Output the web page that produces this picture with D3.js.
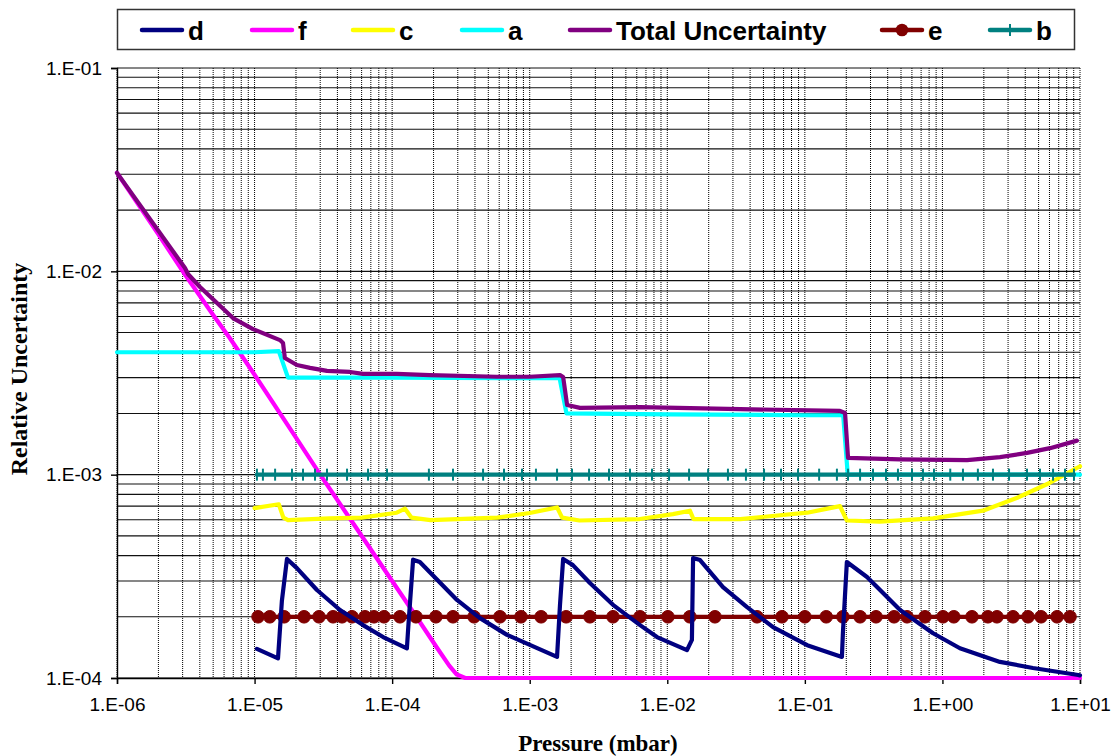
<!DOCTYPE html>
<html>
<head>
<meta charset="utf-8">
<script src="https://cdn.jsdelivr.net/npm/d3@7"></script>
<style>
html,body{margin:0;padding:0;background:#fff;}
svg{display:block;}
</style>
</head>
<body>
<svg id="chart" width="1116" height="756"></svg>
<script>
// ---------- DATA ----------
const xTickValues = [1e-6, 1e-5, 1e-4, 1e-3, 1e-2, 1e-1, 1e0, 1e1];
const xTickLabels = ["1.E-06", "1.E-05", "1.E-04", "1.E-03", "1.E-02", "1.E-01", "1.E+00", "1.E+01"];
const yTickValues = [1e-4, 1e-3, 1e-2, 1e-1];
const yTickLabels = ["1.E-04", "1.E-03", "1.E-02", "1.E-01"];

const seriesNames = ["d", "f", "c", "a", "Total Uncertainty", "e", "b"];

// [pressure (mbar), relative uncertainty]
const dData = [
  [1.04e-5, 1.39e-4], [1.48e-5, 1.25e-4], [1.58e-5, 2.4e-4], [1.72e-5, 3.85e-4], [2.03e-5, 3.47e-4],
  [2.84e-5, 2.71e-4], [4.18e-5, 2.16e-4], [6.14e-5, 1.82e-4], [8.6e-5, 1.59e-4], [1.28e-4, 1.40e-4],
  [1.31e-4, 1.78e-4], [1.42e-4, 3.82e-4], [1.59e-4, 3.72e-4], [2.96e-4, 2.42e-4], [4.35e-4, 1.97e-4],
  [6.84e-4, 1.63e-4], [1.58e-3, 1.27e-4], [1.66e-3, 2.29e-4], [1.75e-3, 3.85e-4], [2.06e-3, 3.59e-4],
  [2.74e-3, 2.93e-4], [4.03e-3, 2.29e-4], [6.34e-3, 1.82e-4], [8.42e-3, 1.59e-4], [1.39e-2, 1.37e-4],
  [1.51e-2, 1.54e-4], [1.54e-2, 3.89e-4], [1.73e-2, 3.80e-4], [2.54e-2, 2.80e-4], [3.80e-2, 2.23e-4],
  [5.87e-2, 1.78e-4], [0.104, 1.45e-4], [0.186, 1.27e-4], [0.189, 1.66e-4], [0.202, 3.72e-4],
  [0.283, 3.14e-4], [0.492, 2.16e-4], [0.855, 1.66e-4], [1.34, 1.40e-4], [2.62, 1.20e-4],
  [4.55, 1.12e-4], [9.7, 1.035e-4], [10, 1.03e-4]
];
const fData = [
  [1e-6, 0.0305], [2e-6, 0.0152], [3.1e-6, 0.0097], [5e-6, 0.0061], [6.6e-6, 0.0047],
  [1e-5, 0.0031], [2e-5, 0.00152], [3e-5, 0.00100], [5e-5, 0.00060], [1e-4, 0.00030],
  [1.5e-4, 0.000200], [2.1e-4, 0.000142], [2.6e-4, 0.000115], [2.95e-4, 0.000104], [3.4e-4, 0.000100],
  [1e-3, 0.000100], [1e-2, 0.000100], [1e-1, 0.000100], [1, 0.000100], [10, 0.000100]
];
const cData = [
  [1e-5, 6.85e-4], [1.5e-5, 7.15e-4], [1.62e-5, 6.15e-4], [1.75e-5, 5.98e-4], [3.5e-5, 6.1e-4],
  [6e-5, 6.15e-4], [1.08e-4, 6.5e-4], [1.24e-4, 6.8e-4], [1.38e-4, 6.15e-4], [1.9e-4, 5.98e-4],
  [5.8e-4, 6.15e-4], [1e-3, 6.48e-4], [1.58e-3, 6.9e-4], [1.72e-3, 6.15e-4], [2.3e-3, 5.95e-4],
  [6.3e-3, 6.05e-4], [1.1e-2, 6.4e-4], [1.46e-2, 6.65e-4], [1.55e-2, 6.05e-4], [3.4e-2, 6.05e-4],
  [0.104, 6.5e-4], [0.18, 7.0e-4], [0.202, 5.95e-4], [0.35, 5.88e-4], [0.855, 6.1e-4],
  [1.97, 6.65e-4], [3.5, 7.7e-4], [6.0, 9.1e-4], [10, 1.1e-3]
];
const aData = [
  [1e-6, 4.0e-3], [1e-5, 4.0e-3], [1.5e-5, 4.05e-3], [1.75e-5, 3.0e-3], [1e-4, 3.0e-3],
  [1e-3, 2.98e-3], [1.65e-3, 2.98e-3], [1.85e-3, 2.0e-3], [1e-2, 1.98e-3], [1e-1, 1.96e-3],
  [0.19, 1.96e-3], [0.205, 1.0e-3], [1, 1.0e-3], [10, 1.0e-3]
];
const totalData = [
  [1e-6, 0.0305], [3.12e-6, 0.01038], [3.28e-6, 0.0097], [4.01e-6, 0.00837], [6.97e-6, 0.00589],
  [9.74e-6, 0.00520], [1.53e-5, 0.00459], [1.61e-5, 0.00444], [1.66e-5, 0.00375], [2.03e-5, 0.00346],
  [2.53e-5, 0.00335], [3.36e-5, 0.00324], [4.94e-5, 0.00320], [6.14e-5, 0.00313], [1.08e-4, 0.00313],
  [1.88e-4, 0.00309], [5.78e-4, 0.00303], [1.0e-3, 0.00303], [1.66e-3, 0.00309], [1.75e-3, 0.00302],
  [1.87e-3, 0.00220], [2.32e-3, 0.00213], [6.34e-3, 0.00215], [3.38e-2, 0.00210], [0.180, 0.00206],
  [0.196, 0.00201], [0.206, 0.00121], [0.492, 0.00119], [1.51, 0.00118], [2.62, 0.00122],
  [4.12, 0.00128], [6.05, 0.00135], [9.5, 0.00147]
];
const ePressures = [
  1.06e-5, 1.29e-5, 1.64e-5, 2.29e-5, 2.94e-5, 3.72e-5, 4.32e-5, 5.11e-5, 6.35e-5, 7.38e-5,
  8.73e-5, 1.14e-4, 1.49e-4, 2.08e-4, 2.77e-4, 3.94e-4, 6.08e-4, 8.64e-4, 1.21e-3, 1.84e-3,
  2.74e-3, 4.03e-3, 6.34e-3, 1.01e-2, 1.46e-2, 2.22e-2, 4.49e-2, 6.82e-2, 0.100, 0.143,
  0.189, 0.252, 0.329, 0.445, 0.553, 0.747, 1.01, 1.21, 1.64, 2.14,
  2.49, 3.26, 4.19, 5.21, 6.81, 8.46
];
const eValue = 2.0e-4;
const bPressures = [
  1.04e-5, 1.15e-5, 1.41e-5, 1.87e-5, 2.25e-5, 2.75e-5, 3.36e-5, 4.70e-5, 6.68e-5, 9.18e-5,
  1.85e-4, 2.77e-4, 4.58e-4, 6.50e-4, 8.79e-4, 1.11e-3, 1.58e-3, 2.03e-3, 2.70e-3, 3.77e-3,
  5.36e-3, 7.74e-3, 1.03e-2, 1.44e-2, 1.98e-2, 2.76e-2, 3.73e-2, 5.05e-2, 6.71e-2, 8.92e-2,
  0.127, 0.171, 0.206, 0.252, 0.313, 0.389, 0.475, 0.601, 0.722, 0.868,
  1.14, 1.41, 1.81, 2.33, 3.05, 4.12, 5.12, 6.37, 7.78, 9.04
];
const bValue = 1.0e-3;

// ---------- DRAW ----------
const colors = {d: "#000080", f: "#FF00FF", c: "#FFFF00", a: "#00FFFF", "Total Uncertainty": "#800080", e: "#800000", b: "#008080"};

const svg = d3.select("#chart");
const L = 117, R = 1080, T = 68, B = 678;
const x = d3.scaleLog().domain([1e-6, 10]).range([L, R]);
const y = d3.scaleLog().domain([1e-4, 1e-1]).range([B, T]);

const grid = svg.append("g");
grid.selectAll("line.h").data(y.ticks()).join("line")
  .attr("x1", L).attr("x2", R)
  .attr("y1", d => y(d)).attr("y2", d => y(d))
  .attr("stroke", "#111").attr("stroke-width", 1.1);
grid.selectAll("line.v").data(x.ticks()).join("line")
  .attr("x1", d => x(d)).attr("x2", d => x(d))
  .attr("y1", T).attr("y2", B)
  .attr("stroke", "#000").attr("stroke-width", 1).attr("stroke-dasharray", "1,1");

const xAxis = d3.axisBottom(x).tickValues(xTickValues)
  .tickFormat((d, i) => xTickLabels[i]).tickSizeOuter(0).tickSize(6).tickPadding(14);
const yAxis = d3.axisLeft(y).tickValues(yTickValues)
  .tickFormat((d, i) => yTickLabels[i]).tickSizeOuter(0).tickSize(6).tickPadding(9);

const gx = svg.append("g").attr("transform", `translate(0,${B})`).call(xAxis);
const gy = svg.append("g").attr("transform", `translate(${L},0)`).call(yAxis);
[gx, gy].forEach(g => {
  g.selectAll("path.domain").attr("stroke", "#000").attr("stroke-width", 1.4);
  g.selectAll(".tick line").attr("stroke", "#000").attr("stroke-width", 1.4);
  g.selectAll(".tick text").attr("font-family", "Liberation Sans, Arial, sans-serif")
    .attr("font-size", 19).attr("fill", "#000");
});

const line = d3.line().x(d => x(d[0])).y(d => y(d[1])).curve(d3.curveLinear);
const plot = svg.append("g");
const lw = 4.2;
function drawLine(data, color) {
  plot.append("path").datum(data).attr("d", line)
    .attr("fill", "none").attr("stroke", color).attr("stroke-width", lw)
    .attr("stroke-linejoin", "round").attr("stroke-linecap", "round");
}
drawLine(fData, colors.f);
drawLine(aData, colors.a);
drawLine(totalData, colors["Total Uncertainty"]);
drawLine(cData, colors.c);

const bPts = bPressures.map(p => [p, bValue]);
drawLine(bPts, colors.b);
plot.selectAll("line.bm").data(bPts).join("line")
  .attr("x1", d => x(d[0])).attr("x2", d => x(d[0]))
  .attr("y1", d => y(d[1]) - 6).attr("y2", d => y(d[1]) + 6)
  .attr("stroke", colors.b).attr("stroke-width", 2);

const ePts = ePressures.map(p => [p, eValue]);
drawLine(ePts, colors.e);
plot.selectAll("circle.em").data(ePts).join("circle")
  .attr("cx", d => x(d[0])).attr("cy", d => y(d[1])).attr("r", 6.3)
  .attr("fill", colors.e).attr("stroke", colors.e).attr("stroke-width", 1);

drawLine(dData, colors.d);

svg.append("text").attr("x", 598).attr("y", 751).attr("text-anchor", "middle")
  .attr("font-family", "Liberation Serif, Times New Roman, serif").attr("font-weight", "bold")
  .attr("font-size", 23).text("Pressure (mbar)");
svg.append("text").attr("transform", "translate(27,369) rotate(-90)").attr("text-anchor", "middle")
  .attr("font-family", "Liberation Serif, Times New Roman, serif").attr("font-weight", "bold")
  .attr("font-size", 24).text("Relative Uncertainty");

const leg = svg.append("g");
leg.append("rect").attr("x", 117.5).attr("y", 9.5).attr("width", 957).attr("height", 40)
  .attr("fill", "#fff").attr("stroke", "#333").attr("stroke-width", 1.5);
const legX = [142, 252, 353, 462, 570, 882, 990];
seriesNames.forEach((name, i) => {
  const g = leg.append("g").attr("transform", `translate(${legX[i]},30)`);
  g.append("line").attr("x1", 0).attr("x2", 40).attr("y1", 0).attr("y2", 0)
    .attr("stroke", colors[name]).attr("stroke-width", 4.5).attr("stroke-linecap", "round");
  if (name === "e") g.append("circle").attr("cx", 20).attr("cy", 0).attr("r", 6.3).attr("fill", colors.e);
  if (name === "b") g.append("line").attr("x1", 20).attr("x2", 20).attr("y1", -6).attr("y2", 6)
    .attr("stroke", colors.b).attr("stroke-width", 2);
  g.append("text").attr("x", 46).attr("y", 9.5)
    .attr("font-family", "Liberation Sans, Arial, sans-serif").attr("font-weight", "bold")
    .attr("font-size", 26).text(name);
});
</script>
</body>
</html>
